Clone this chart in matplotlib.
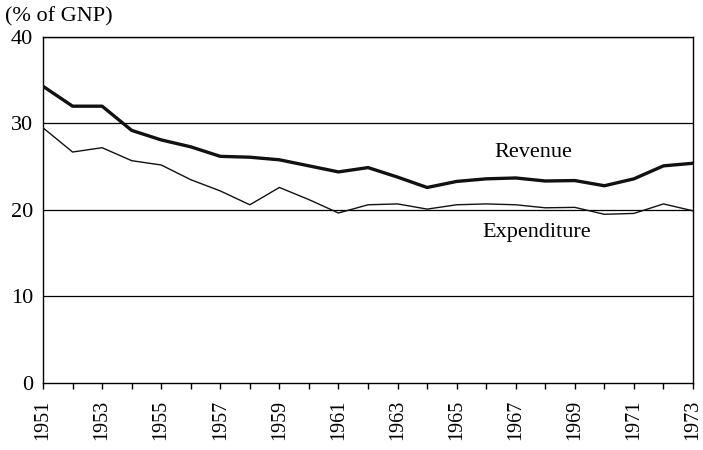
import matplotlib
matplotlib.use("Agg")
import matplotlib.pyplot as plt

plt.rcParams['font.family'] = ['Liberation Serif', 'DejaVu Serif']

years = list(range(1951, 1974))
revenue = [34.3, 32.0, 32.0, 29.2, 28.1, 27.3, 26.2, 26.1, 25.8, 25.1, 24.4, 24.9,
           23.8, 22.6, 23.3, 23.6, 23.7, 23.35, 23.4, 22.8, 23.6, 25.1, 25.4]
expenditure = [29.5, 26.7, 27.2, 25.7, 25.2, 23.5, 22.2, 20.6, 22.6, 21.2, 19.65, 20.6,
               20.7, 20.1, 20.6, 20.7, 20.6, 20.25, 20.3, 19.5, 19.6, 20.7, 19.9]
yticks = [0, 10, 20, 30, 40]

fig = plt.figure(figsize=(7.03, 4.5), dpi=100)
ax = fig.add_axes([0.0612, 0.149, 0.9246, 0.7688])

for y in yticks[1:]:
    ax.axhline(y, color='black', linewidth=0.9, zorder=1)

ax.plot(years, revenue, color='#111111', linewidth=2.4, zorder=3)
ax.plot(years, expenditure, color='#111111', linewidth=1.0, zorder=3)

ax.set_xlim(1951, 1973)
ax.set_ylim(0, 40)
ax.set_xticks(years)
ax.set_xticklabels([str(y) if (y - 1951) % 2 == 0 else '' for y in years],
                   rotation=90, fontsize=14.5)
ax.set_yticks(yticks)
ax.set_yticklabels([str(v) for v in yticks], fontsize=16)
ax.tick_params(axis='x', direction='out', length=4, width=1, pad=8)
ax.tick_params(axis='y', length=0, pad=7)
for s in ax.spines.values():
    s.set_linewidth(1.0)

ax.text(1967.6, 26.6, 'Revenue', fontsize=16, ha='center', va='center')
ax.text(1967.7, 17.35, 'Expenditure', fontsize=16, ha='center', va='center')
fig.text(0.007, 0.962, '(% of GNP)', fontsize=16, ha='left', va='center')

fig.savefig('out.png', dpi=100)
